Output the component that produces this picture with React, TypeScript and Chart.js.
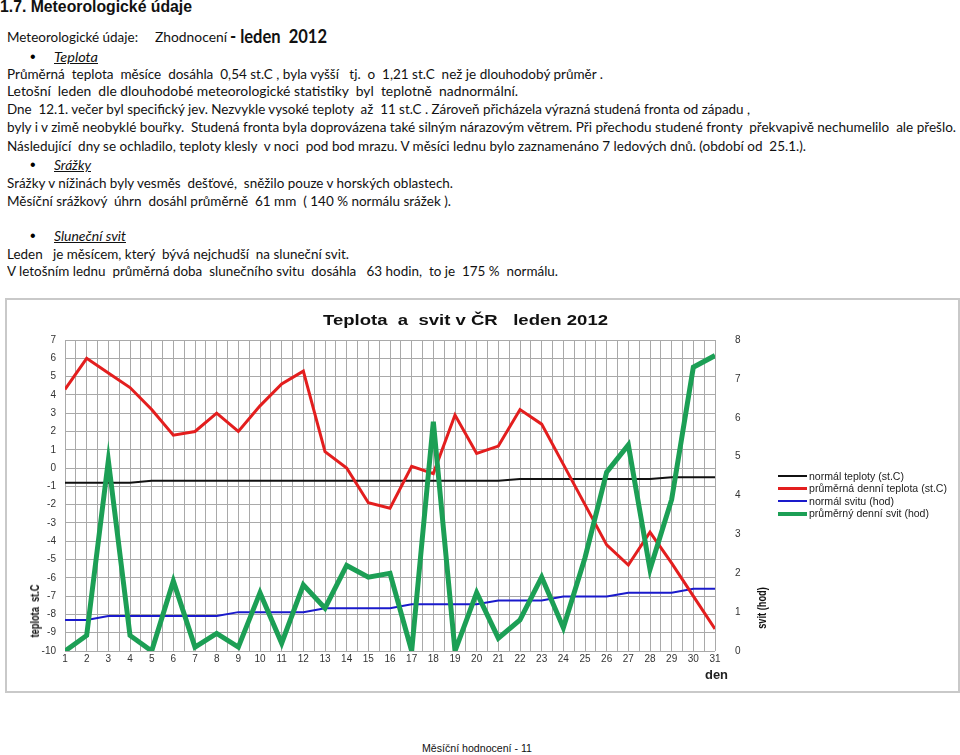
import React, { useEffect, useLayoutEffect, useRef } from "react";
import { Chart, registerables } from "chart.js";

Chart.register(...registerables);

const days = [1, 2, 3, 4, 5, 6, 7, 8, 9, 10, 11, 12, 13, 14, 15, 16, 17, 18, 19, 20, 21, 22, 23, 24, 25, 26, 27, 28, 29, 30, 31];

const normalTemp = [-0.8, -0.8, -0.8, -0.8, -0.7, -0.7, -0.7, -0.7, -0.7, -0.7, -0.7, -0.7, -0.7, -0.7, -0.7, -0.7, -0.7, -0.7, -0.7, -0.7, -0.7, -0.6, -0.6, -0.6, -0.6, -0.6, -0.6, -0.6, -0.5, -0.5, -0.5];

const avgTemp = [4.3, 6.0, 5.2, 4.4, 3.2, 1.8, 2.0, 3.0, 2.0, 3.4, 4.6, 5.3, 0.9, 0.0, -1.9, -2.2, 0.1, -0.3, 2.9, 0.8, 1.2, 3.2, 2.4, 0.2, -2.0, -4.2, -5.3, -3.5, -5.2, -7.0, -8.8];

const normalSun = [0.8, 0.8, 0.9, 0.9, 0.9, 0.9, 0.9, 0.9, 1.0, 1.0, 1.0, 1.0, 1.1, 1.1, 1.1, 1.1, 1.2, 1.2, 1.2, 1.2, 1.3, 1.3, 1.3, 1.4, 1.4, 1.4, 1.5, 1.5, 1.5, 1.6, 1.6];

const avgSun = [0.0, 0.4, 4.9, 0.4, 0.0, 1.8, 0.1, 0.45, 0.1, 1.5, 0.2, 1.7, 1.1, 2.2, 1.9, 2.0, 0.0, 5.9, 0.0, 1.5, 0.33, 0.8, 1.9, 0.6, 2.4, 4.6, 5.3, 2.1, 3.9, 7.3, 7.6];

const seriesLabels = ["normál teploty (st.C)", "průměrná denní teplota (st.C)", "normál svitu (hod)", "průměrný denní svit (hod)"];
const seriesColors = ["#111111", "#e31e1e", "#1a1acb", "#1c9f55"];
const seriesWidths = [2, 3, 2, 5];
const legendWidths = [95, 138, 85, 120];

const TEXT_FONT = "Lato, 'Open Sans', sans-serif";
const ARIAL = "'Liberation Sans', Arial, sans-serif";

type FitProps = {
  x: number;
  cy: number;
  w: number;
  fs: number;
  style?: React.CSSProperties;
  children: React.ReactNode;
};

function Fit({ x, cy, w, fs, style, children }: FitProps) {
  const ref = useRef<HTMLDivElement>(null);
  useLayoutEffect(() => {
    const fit = () => {
      const el = ref.current;
      if (!el) return;
      el.style.transform = "none";
      const nat = el.getBoundingClientRect().width;
      if (nat > 0) el.style.transform = `scaleX(${w / nat})`;
    };
    fit();
    if ((document as any).fonts && (document as any).fonts.ready) {
      (document as any).fonts.ready.then(fit);
    }
  }, [w]);
  const lh = Math.round(fs * 1.25);
  return (
    <div
      ref={ref}
      style={{
        position: "absolute",
        left: x,
        top: cy - lh / 2,
        lineHeight: lh + "px",
        fontSize: fs,
        whiteSpace: "pre",
        transformOrigin: "0 0",
        fontFamily: TEXT_FONT,
        color: "#111",
        ...style,
      }}
    >
      {children}
    </div>
  );
}

function TempSunChart() {
  const ref = useRef<HTMLCanvasElement>(null);
  useEffect(() => {
    if (!ref.current) return;
    const gridColor = "#a9a9a9";
    const tickFont = { family: ARIAL, size: 10 };
    const tickColor = "#333";
    const values = [normalTemp, avgTemp, normalSun, avgSun];
    const axes = ["y", "y", "y1", "y1"];
    const orders = [2, 1, 3, 0];
    const chart = new Chart(ref.current, {
      type: "line",
      data: {
        datasets: values.map((vals, k) => ({
          label: seriesLabels[k],
          data: days.map((d, i) => ({ x: d, y: vals[i] })),
          borderColor: seriesColors[k],
          backgroundColor: seriesColors[k],
          borderWidth: seriesWidths[k],
          yAxisID: axes[k],
          order: orders[k],
          pointRadius: 0,
          tension: 0,
          fill: false,
        })),
      },
      options: {
        animation: false,
        responsive: false,
        maintainAspectRatio: false,
        layout: { padding: { left: 0, top: 42, right: 215, bottom: 27 } },
        plugins: {
          legend: { display: false },
          title: { display: false },
          tooltip: { enabled: false },
        },
        scales: {
          x: {
            type: "linear",
            min: 1,
            max: 31,
            grid: { color: gridColor, drawTicks: false, lineWidth: 1 },
            border: { display: false },
            ticks: {
              stepSize: 0.5,
              autoSkip: false,
              maxRotation: 0,
              padding: 2,
              color: tickColor,
              font: tickFont,
              callback: (v: any) => (Number.isInteger(v) ? String(v) : ""),
            },
            afterFit: (s: any) => {
              s.height = 20;
            },
          },
          y: {
            position: "left",
            min: -10,
            max: 7,
            grid: { color: gridColor, drawTicks: false, lineWidth: 1 },
            border: { display: false },
            ticks: { stepSize: 1, padding: 9, color: tickColor, font: tickFont },
            afterFit: (s: any) => {
              s.width = 65;
            },
          },
          y1: {
            position: "right",
            min: 0,
            max: 8,
            grid: { display: false, drawTicks: false },
            border: { display: false },
            ticks: { stepSize: 1, padding: 20, color: tickColor, font: tickFont },
            afterFit: (s: any) => {
              s.width = 30;
            },
          },
        },
      } as any,
    });
    return () => chart.destroy();
  }, []);
  return <canvas ref={ref} width={960} height={400} style={{ position: "absolute", left: 0, top: 298 }} />;
}

export default function App() {
  const rowY = [476, 488.5, 501, 513.5];
  return (
    <div style={{ position: "absolute", left: 0, top: 0, width: 960, height: 755, background: "#fff", overflow: "hidden" }}>
      <Fit x={0} cy={7} w={192} fs={16} style={{ fontFamily: ARIAL, fontWeight: 700 }}>1.7. Meteorologické údaje</Fit>
      <Fit x={7} cy={37} w={131} fs={14}>Meteorologické údaje:</Fit>
      <Fit x={155} cy={37} w={72} fs={14}>Zhodnocení</Fit>
      <Fit x={230} cy={36} w={97} fs={18} style={{ fontWeight: 700 }}>- leden  2012</Fit>
      <div style={{ position: "absolute", left: 30, top: 47, fontSize: 16, lineHeight: "20px", fontFamily: ARIAL }}>•</div>
      <Fit x={54} cy={57} w={44} fs={14} style={{ fontStyle: "italic", textDecoration: "underline" }}>Teplota</Fit>
      <Fit x={7} cy={74} w={596} fs={14}>Průměrná  teplota  měsíce  dosáhla  0,54 st.C , byla vyšší   tj.  o  1,21 st.C  než je dlouhodobý průměr .</Fit>
      <Fit x={7} cy={91} w={511} fs={14}>Letošní  leden  dle dlouhodobé meteorologické statistiky  byl  teplotně  nadnormální.</Fit>
      <Fit x={7} cy={109} w={743} fs={14}>Dne  12.1. večer byl specifický jev. Nezvykle vysoké teploty  až  11 st.C . Zároveň přicházela výrazná studená fronta od západu ,</Fit>
      <Fit x={7} cy={127} w={949} fs={14}>byly i v zimě neobyklé bouřky.  Studená fronta byla doprovázena také silným nárazovým větrem. Při přechodu studené fronty  překvapivě nechumelilo  ale přešlo.</Fit>
      <Fit x={7} cy={146} w={799} fs={14}>Následující  dny se ochladilo, teploty klesly  v noci  pod bod mrazu. V měsíci lednu bylo zaznamenáno 7 ledových dnů. (období od  25.1.).</Fit>
      <div style={{ position: "absolute", left: 30, top: 155, fontSize: 16, lineHeight: "20px", fontFamily: ARIAL }}>•</div>
      <Fit x={54} cy={165} w={37} fs={14} style={{ fontStyle: "italic", textDecoration: "underline" }}>Srážky</Fit>
      <Fit x={7} cy={183} w={446} fs={14}>Srážky v nížinách byly vesměs  dešťové,  sněžilo pouze v horských oblastech.</Fit>
      <Fit x={7} cy={201} w={444} fs={14}>Měsíční srážkový  úhrn  dosáhl průměrně  61 mm  ( 140 % normálu srážek ).</Fit>
      <div style={{ position: "absolute", left: 30, top: 226, fontSize: 16, lineHeight: "20px", fontFamily: ARIAL }}>•</div>
      <Fit x={54} cy={236} w={72} fs={14} style={{ fontStyle: "italic", textDecoration: "underline" }}>Sluneční svit</Fit>
      <Fit x={7} cy={254} w={342} fs={14}>Leden   je měsícem, který  bývá nejchudší  na sluneční svit.</Fit>
      <Fit x={7} cy={271} w={551} fs={14}>V letošním lednu  průměrná doba  slunečního svitu  dosáhla   63 hodin,  to je  175 %  normálu.</Fit>

      <div style={{ position: "absolute", left: 5, top: 298, width: 955, height: 395, border: "2px solid #c9c9c9", boxSizing: "border-box" }} />
      <TempSunChart />
      <Fit x={323} cy={319} w={285} fs={15} style={{ fontFamily: ARIAL, fontWeight: 700, color: "#111" }}>Teplota  a  svit v ČR   leden 2012</Fit>

      <div
        style={{
          position: "absolute",
          left: 35,
          top: 611,
          transform: "translate(-50%, -50%) rotate(-90deg) scaleX(0.74)",
          fontFamily: ARIAL,
          fontWeight: 700,
          fontSize: 12.5,
          whiteSpace: "pre",
          color: "#111",
          lineHeight: "14px",
        }}
      >
        teplota  st.C
      </div>
      <div
        style={{
          position: "absolute",
          left: 762,
          top: 608,
          transform: "translate(-50%, -50%) rotate(-90deg) scaleX(0.74)",
          fontFamily: ARIAL,
          fontWeight: 700,
          fontSize: 12.5,
          whiteSpace: "pre",
          color: "#111",
          lineHeight: "14px",
        }}
      >
        svit (hod)
      </div>
      <Fit x={705} cy={675} w={23} fs={12} style={{ fontFamily: ARIAL, fontWeight: 700, color: "#222" }}>den</Fit>

      {seriesLabels.map((lab, k) => (
        <React.Fragment key={lab}>
          <div
            style={{
              position: "absolute",
              left: 778,
              top: rowY[k] - 1.5,
              width: 29,
              height: k === 3 ? 3.5 : 2.5,
              background: seriesColors[k],
            }}
          />
          <Fit x={809} cy={rowY[k]} w={legendWidths[k]} fs={10} style={{ fontFamily: ARIAL, color: "#222" }}>
            {lab}
          </Fit>
        </React.Fragment>
      ))}

      <Fit x={422} cy={748} w={110} fs={11} style={{ fontFamily: ARIAL, color: "#111" }}>Měsíční hodnocení - 11</Fit>
    </div>
  );
}
